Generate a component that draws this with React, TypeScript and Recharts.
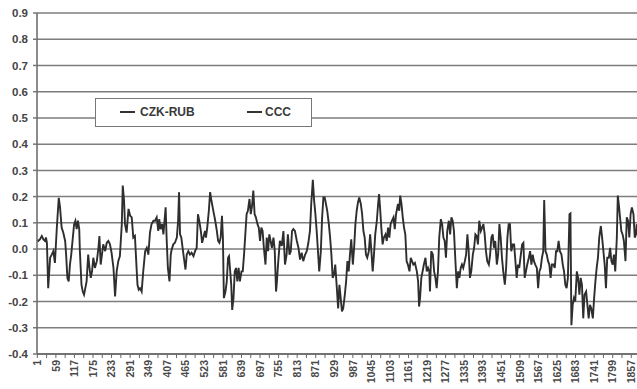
import React from 'react';
import { LineChart, Line, XAxis, YAxis, CartesianGrid, Legend } from 'recharts';

const seriesNames = ['CZK-RUB', 'CCC'];

const obsIndex = [
  1, 4, 9, 15, 20, 25, 28, 31, 35, 41, 46, 51, 56, 62, 68, 72, 77, 82, 88, 91, 95, 99, 103, 107, 112, 116, 120, 124, 128, 132, 134, 139, 143, 147, 151, 155, 160, 164, 168, 172, 176, 181, 187, 192, 195, 199, 203, 207, 213, 218, 223, 228, 233, 239, 244, 249, 254, 259, 265, 268, 272, 275, 280, 286, 291, 296, 301, 306, 309, 314, 318, 322, 327, 332, 338, 343, 348, 353, 358, 364, 369,
  374, 379, 382, 386, 391, 395, 402, 405, 409, 414, 418, 421, 426, 431, 437, 441, 444, 447, 451, 455, 459, 464, 468, 473, 478, 483, 489, 494, 499, 503, 507, 512, 516, 520, 525, 528, 532, 537, 541, 545, 549, 553, 557, 562, 566, 570, 574, 578, 581, 584, 589, 593, 597, 600, 603, 607, 610, 614, 618, 622, 626, 630, 634, 639, 643, 647, 651, 655, 659, 664, 668, 672, 676, 680, 684, 689, 693, 697, 701, 705, 709, 714, 718, 722, 726, 730, 734, 739, 743, 747,
  749, 754, 759, 765, 770, 775, 780, 784, 789, 793, 797, 801, 806, 812, 817, 822, 827, 832, 838, 843, 848, 853, 857, 862, 866, 870, 874, 878, 882, 887, 891, 895, 899, 903, 907, 912, 916, 920, 924, 928, 932, 937, 941, 945, 949, 953, 957, 962, 966, 970, 974, 978, 982, 987, 991, 995, 999, 1003, 1007, 1012, 1016, 1020, 1024, 1028, 1032, 1037, 1041, 1045, 1049, 1053, 1057, 1062, 1066, 1069, 1072, 1076, 1080, 1084, 1089, 1093, 1097, 1101, 1105, 1109, 1114, 1118, 1122,
  1124, 1128, 1132, 1135, 1139, 1143, 1147, 1151, 1155, 1159, 1164, 1168, 1172, 1176, 1181, 1187, 1191, 1194, 1197, 1201, 1205, 1209, 1214, 1218, 1222, 1226, 1228, 1232, 1237, 1241, 1245, 1249, 1253, 1257, 1262, 1266, 1270, 1274, 1278, 1282, 1287, 1291, 1295, 1299, 1303, 1307, 1312, 1316, 1320, 1324, 1328, 1332, 1337, 1341, 1345, 1349, 1353, 1357, 1362, 1366, 1370, 1374, 1378, 1382, 1387, 1391, 1395, 1399, 1403, 1407, 1412, 1416, 1420, 1424, 1428, 1432, 1437, 1441, 1445, 1449, 1453, 1457, 1462, 1466, 1470, 1474, 1478, 1482, 1487, 1491, 1495,
  1499, 1503, 1507, 1512, 1516, 1520, 1524, 1528, 1532, 1537, 1541, 1545, 1549, 1553, 1557, 1562, 1566, 1570, 1574, 1578, 1582, 1585, 1589, 1593, 1597, 1601, 1605, 1609, 1614, 1618, 1622, 1626, 1630, 1634, 1639, 1643, 1647, 1651, 1655, 1659, 1664, 1667, 1670, 1674, 1678, 1682, 1687, 1691, 1695, 1699, 1703, 1707, 1711, 1716, 1720, 1724, 1728, 1732, 1737, 1741, 1745, 1749, 1753, 1757, 1762, 1766, 1770, 1774, 1778, 1782, 1787, 1791, 1795, 1799, 1803, 1807, 1812, 1815, 1818, 1822, 1826, 1830, 1834, 1839, 1843, 1847, 1851, 1855, 1859, 1864, 1868, 1872, 1874,
];

const czkRub = [
  0.035, 0.031, 0.037, 0.05, 0.037, 0.031, 0.044, 0.024, -0.149, -0.033, -0.021, -0.008, -0.053, 0.082, 0.195, 0.159, 0.082, 0.063, 0.031, -0.021, -0.11, -0.123, -0.059, -0.021, 0.044, 0.095, 0.108, 0.076, 0.108, 0.076, -0.008, -0.136, -0.162, -0.174, -0.149, -0.123, -0.021, -0.072, -0.11, -0.085, -0.033, -0.072, -0.046, 0.005, 0.05, -0.059, -0.021, 0.018, -0.008, 0.024, 0.031, 0.018, -0.014, -0.072, -0.181, -0.085, -0.046, -0.027, 0.095, 0.242, 0.185, 0.095, 0.063, 0.153, 0.127, 0.121, 0.044, 0.05, -0.021, -0.136, -0.155, -0.149, -0.162, -0.085, -0.008, 0.005, -0.021, 0.063, 0.095, 0.108, 0.108,
  0.121, 0.069, 0.114, 0.076, 0.095, 0.056, 0.159, 0.044, -0.072, -0.123, -0.021, -0.001, 0.018, 0.024, 0.044, 0.108, 0.217, 0.056, 0.044, 0.005, -0.033, -0.078, -0.021, -0.008, -0.021, -0.014, -0.027, -0.008, 0.005, 0.133, 0.108, 0.069, 0.024, 0.044, 0.069, 0.044, 0.082, 0.146, 0.217, 0.185, 0.159, 0.133, 0.108, 0.069, 0.031, 0.024, 0.044, 0.127, 0.044, -0.187, -0.162, -0.123, -0.033, -0.027, -0.072, -0.136, -0.232, -0.187, -0.085, -0.072, -0.123, -0.072, -0.123, -0.085, -0.085, -0.021, 0.056, 0.133, 0.146, 0.191, 0.133, 0.165, 0.223, 0.133, 0.121, 0.095, 0.082, 0.031, 0.082, 0.069, 0.005, -0.059, 0.044, -0.008, 0.056, 0.031, 0.005, 0.044, -0.008, -0.162,
  -0.136, -0.046, 0.031, 0.012, 0.069, -0.059, -0.021, 0.056, -0.021, -0.008, 0.069, 0.076, 0.069, 0.031, 0.005, -0.04, -0.014, -0.046, -0.021, -0.008, 0.024, 0.069, 0.172, 0.264, 0.185, 0.133, 0.069, -0.008, -0.085, -0.008, 0.121, 0.197, 0.197, 0.172, 0.146, 0.095, 0.044, -0.021, -0.11, -0.097, -0.059, -0.149, -0.226, -0.136, -0.187, -0.238, -0.226, -0.174, -0.123, -0.046, -0.085, -0.021, 0.037, -0.059, 0.005, 0.095, 0.146, 0.178, 0.197, 0.172, 0.133, 0.069, 0.044, -0.021, -0.033, -0.008, 0.056, -0.008, -0.085, -0.021, 0.056, 0.108, 0.172, 0.21, 0.159, 0.082, 0.018, 0.044, 0.056, 0.031, 0.082, 0.044, 0.095, 0.108, 0.121, 0.076, 0.133,
  0.146, 0.172, 0.146, 0.204, 0.172, 0.121, 0.082, 0.056, -0.046, -0.059, -0.085, -0.033, -0.046, -0.059, -0.053, -0.085, -0.123, -0.219, -0.187, -0.11, -0.085, -0.059, -0.033, -0.085, -0.072, -0.085, -0.162, -0.008, -0.021, -0.085, -0.11, -0.149, -0.085, 0.044, 0.114, 0.095, 0.044, 0.031, -0.033, 0.069, 0.108, 0.056, 0.121, 0.108, 0.069, -0.033, -0.149, -0.085, -0.11, -0.072, -0.059, -0.072, -0.046, -0.021, 0.056, -0.008, -0.11, -0.085, -0.021, 0.005, 0.056, 0.05, 0.018, 0.108, 0.069, 0.082, 0.095, 0.056, -0.008, -0.046, -0.059, -0.021, 0.044, 0.056, 0.005, 0.031, -0.059, -0.021, 0.095, 0.044, -0.033, -0.085, -0.136, -0.072, 0.044, 0.095, 0.095, -0.008, 0.018, 0.018, -0.046,
  -0.11, -0.059, -0.072, -0.021, 0.018, 0.024, -0.11, -0.085, -0.059, -0.033, -0.008, -0.059, -0.021, -0.046, -0.059, -0.072, -0.149, -0.085, -0.072, -0.033, -0.008, 0.187, -0.008, -0.021, -0.046, -0.059, -0.11, -0.059, -0.059, -0.072, -0.008, -0.008, 0.031, -0.008, -0.021, -0.059, -0.085, -0.136, -0.149, -0.11, 0.133, 0.136, -0.29, -0.213, -0.187, -0.2, -0.085, -0.11, -0.174, -0.11, -0.136, -0.264, -0.174, -0.162, -0.213, -0.264, -0.213, -0.226, -0.264, -0.187, -0.123, -0.072, -0.033, 0.044, 0.088, 0.044, -0.008, -0.059, -0.149, -0.033, -0.033, 0.005, -0.046, -0.059, -0.021, -0.085, 0.044, 0.204, 0.172, 0.121, 0.069, 0.056, 0.031, -0.046, 0.121, 0.108, 0.044, 0.133, 0.159, 0.133, 0.044, 0.056, 0.095,
];

const yTicks = [-0.4, -0.3, -0.2, -0.1, 0.0, 0.1, 0.2, 0.3, 0.4, 0.5, 0.6, 0.7, 0.8, 0.9];

const xTickLabels = [
  1, 59, 117, 175, 233, 291, 349, 407, 465, 523, 581, 639, 697, 755, 813, 871, 929, 987,
  1045, 1103, 1161, 1219, 1277, 1335, 1393, 1451, 1509, 1567, 1625, 1683, 1741, 1799, 1857,
];

const xTickMarks = xTickLabels.flatMap((v) => [v, v + 29]);

const data = obsIndex.map((c, i) => ({ c, czk: czkRub[i] }));

const FONT = '"Liberation Sans", Arial, sans-serif';

const XTick = (props: any) => {
  const { x, y, payload } = props;
  if (!xTickLabels.includes(payload.value)) return null;
  return (
    <text
      x={x}
      y={y}
      transform={`rotate(-90, ${x}, ${y})`}
      textAnchor="end"
      dy="0.35em"
      fontSize={10.5}
      fontWeight="bold"
      fontFamily={FONT}
      fill="#4a4a4a"
    >
      {payload.value}
    </text>
  );
};

const YTick = (props: any) => {
  const { x, y, payload } = props;
  return (
    <text
      x={x}
      y={y}
      textAnchor="end"
      dy="0.36em"
      fontSize={11.5}
      fontWeight="bold"
      fontFamily={FONT}
      fill="#444"
    >
      {payload.value.toFixed(1)}
    </text>
  );
};

const LegendBox = () => (
  <div
    style={{
      position: 'relative',
      width: 217,
      height: 29,
      boxSizing: 'border-box',
      border: '1.5px solid #777',
      background: '#fff',
      fontFamily: FONT,
      fontWeight: 'bold',
      fontSize: 12,
      color: '#3a3a3a',
    }}
  >
    {seriesNames.map((name, i) => {
      const left = i === 0 ? 24 : 151;
      return (
        <div key={name} style={{ position: 'absolute', left, top: 0, height: 26, display: 'flex', alignItems: 'center' }}>
          <div style={{ width: 15, height: 1.5, background: '#333', marginRight: i === 0 ? 5 : 3 }} />
          <span>{name}</span>
        </div>
      );
    })}
  </div>
);

export default function App() {
  return (
    <div style={{ position: 'absolute', left: 0, top: 0, width: 637, height: 389, overflow: 'hidden', background: '#fff' }}>
      <LineChart width={650} height={389} data={data} margin={{ top: 13, right: 5, bottom: 0, left: 0 }}>
        <CartesianGrid horizontal vertical={false} stroke="#7d7d7d" strokeWidth={1.5} />
        <XAxis
          dataKey="c"
          type="number"
          domain={[0, 1900]}
          ticks={xTickMarks}
          interval={0}
          tick={<XTick />}
          tickSize={4}
          tickMargin={2}
          height={35}
          axisLine={{ stroke: '#666', strokeWidth: 1.5 }}
          tickLine={{ stroke: '#666', strokeWidth: 1 }}
          allowDataOverflow
        />
        <YAxis
          type="number"
          domain={[-0.4, 0.9]}
          ticks={yTicks}
          interval={0}
          width={37}
          tick={<YTick />}
          tickSize={4}
          tickMargin={5}
          axisLine={{ stroke: '#666', strokeWidth: 1.5 }}
          tickLine={{ stroke: '#777', strokeWidth: 1.5 }}
        />
        <Legend
          layout="horizontal"
          verticalAlign="middle"
          align="center"
          content={<LegendBox />}
          wrapperStyle={{ position: 'absolute', left: 95, top: 98, width: 217, height: 29 }}
        />
        <Line
          name={seriesNames[0]}
          dataKey="czk"
          stroke="#2e2e2e"
          strokeWidth={1.9}
          dot={false}
          isAnimationActive={false}
        />
        <Line
          name={seriesNames[1]}
          dataKey="ccc"
          stroke="#2e2e2e"
          strokeWidth={1.6}
          dot={false}
          isAnimationActive={false}
        />
      </LineChart>
    </div>
  );
}
